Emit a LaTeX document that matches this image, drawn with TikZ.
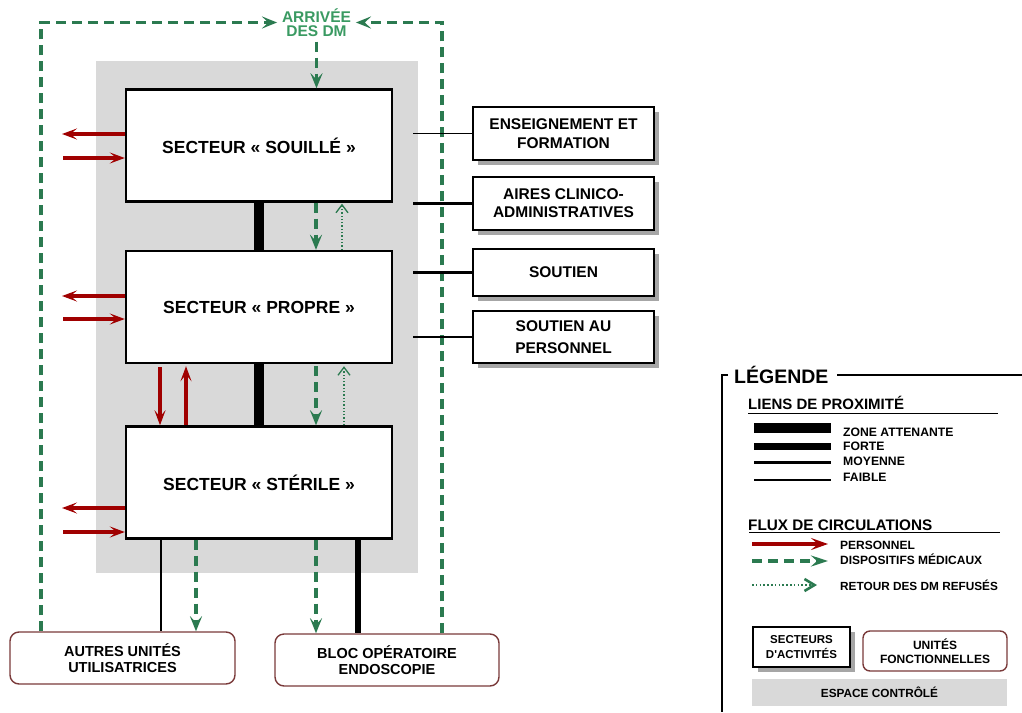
\documentclass[tikz,border=0pt]{standalone}
\usepackage{fontspec}
\setmainfont{Liberation Sans}
\usetikzlibrary{arrows.meta,shadows}
\definecolor{dmgreen}{HTML}{2B7A50}
\definecolor{dmtext}{HTML}{3A9A62}
\definecolor{persred}{HTML}{A00000}
\definecolor{ufbrown}{HTML}{7A3A3A}
\definecolor{espacegris}{HTML}{D9D9D9}
\definecolor{ombre}{HTML}{A6A6A6}
\newcommand{\fs}[2]{\bfseries\fontsize{#1}{#2}\selectfont}
\begin{document}
\begin{tikzpicture}[x=1pt,y=-1pt,
  every node/.style={align=center, inner sep=0pt},
  secteur/.style={draw=black, line width=2.4pt, fill=white,
    minimum width=266pt, minimum height=112pt, font=\fs{17.5}{20}},
  fonction/.style={draw=black, line width=1.4pt, fill=white,
    minimum width=181pt, font=\fs{15.5}{19},
    drop shadow={shadow xshift=5pt, shadow yshift=-5pt, fill=ombre, opacity=1}},
  unite/.style={draw=ufbrown, line width=1.4pt, rounded corners=9pt, fill=white,
    minimum width=225pt, minimum height=52pt, font=\fs{14.5}{16.5}},
  zone/.style={line width=10pt},
  forte/.style={line width=6.5pt},
  moyenne/.style={line width=2.2pt},
  faible/.style={line width=1pt},
  pers/.style={persred, line width=3.2pt, -{Stealth[length=15pt,width=11pt,inset=6.5pt]}},
  dm/.style={dmgreen, line width=3.2pt, dash pattern=on 10pt off 6pt,
    -{Stealth[length=15pt,width=12pt,inset=6pt]}},
  retour/.style={dmgreen, line width=1.3pt, dash pattern=on 1.3pt off 2pt,
    -{Straight Barb[length=8pt,width=12pt,line width=1.3pt]}},
  lbl/.style={anchor=base west, font=\fs{12.2}{14}},
]
\useasboundingbox (0,0) rectangle (1022,712);

% controlled space behind the three sectors
\node[fill=espacegris, minimum width=322pt, minimum height=512pt] (espace) at (257,317) {};

% sectors
\node[secteur] (souille) at (259,145.5) {SECTEUR «~SOUILLÉ~»};
\node[secteur] (propre)  at (259,307)   {SECTEUR «~PROPRE~»};
\node[secteur] (sterile) at (259,482.5) {SECTEUR «~STÉRILE~»};

% functional units on the right
\node[fonction, minimum height=53pt] (ens)     at (563.5,133.5) {ENSEIGNEMENT ET\\FORMATION};
\node[fonction, minimum height=53pt, font=\fs{15.5}{18.3}] (aires) at (563.5,203.5) {AIRES CLINICO-\\ADMINISTRATIVES};
\node[fonction, minimum height=47pt] (soutien) at (563.5,272.5) {SOUTIEN};
\node[fonction, minimum height=52pt, font=\fs{15.5}{22}] (sap) at (563.5,337) {SOUTIEN AU\\PERSONNEL};

% user units at the bottom
\node[unite] (autres) at (122.5,658) {AUTRES UNITÉS\\UTILISATRICES};
\node[unite, minimum width=224pt] (bloc) at (387,660) {BLOC OPÉRATOIRE\\ENDOSCOPIE};

% arrival of medical devices
\node[font=\fs{15.5}{14.5}, text=dmtext, outer sep=5pt] (arrivee) at (316.5,22.5) {ARRIVÉE\\DES DM};

% outer loop of medical devices
\draw[dm] ([xshift=-81.5pt]autres.north) |- (arrivee.west);
\draw[dm] ([xshift=55pt]bloc.north) |- (arrivee.east);
\draw[dm] (arrivee.south) -- (arrivee.south |- souille.north);

% proximity links between sectors
\draw[zone] (souille.south) -- (propre.north);
\draw[zone] (propre.south) -- (sterile.north);

% devices flow and refused returns
\draw[dm] ([xshift=57pt]souille.south) -- ([xshift=57pt]propre.north);
\draw[retour] ([xshift=83pt]propre.north) -- ([xshift=83pt,yshift=-1pt]souille.south);
\draw[dm, shorten <=2pt] ([xshift=57pt]propre.south) -- ([xshift=57pt]sterile.north);
\draw[retour] ([xshift=85pt]sterile.north) -- ([xshift=85pt,yshift=-2pt]propre.south);

% personnel flows
\coordinate (so1) at (62,134);
\coordinate (si1) at (63,158);
\coordinate (so2) at (62,296);
\coordinate (si2) at (63,319);
\coordinate (so3) at (62,508);
\coordinate (si3) at (63,532);
\draw[pers] (so1 -| souille.west) -- (so1);
\draw[pers] (si1) -- (si1 -| souille.west);
\draw[pers] (so2 -| propre.west) -- (so2);
\draw[pers] (si2) -- (si2 -| propre.west);
\draw[pers] (so3 -| sterile.west) -- (so3);
\draw[pers] (si3) -- (si3 -| sterile.west);
\draw[pers, shorten <=3pt] ([xshift=-99pt]propre.south) -- ([xshift=-99pt]sterile.north);
\draw[pers] ([xshift=-73pt]sterile.north) -- ([xshift=-73pt,yshift=-2pt]propre.south);

% links to the bottom units
\draw[moyenne] ([xshift=-98pt]sterile.south) -- ([xshift=-98pt]sterile.south |- autres.north);
\draw[dm] ([xshift=-63pt]sterile.south) -- ([xshift=-63pt]sterile.south |- autres.north);
\draw[dm] ([xshift=57pt]sterile.south) -- ([xshift=57pt]sterile.south |- bloc.north);
\draw[forte] ([xshift=99pt]sterile.south) -- ([xshift=99pt]sterile.south |- bloc.north);

% links to the functional units
\draw[faible]  ([xshift=-5pt]espace.east |- ens.west) -- (ens.west);
\draw[moyenne] ([xshift=-5pt]espace.east |- aires.west) -- (aires.west);
\draw[moyenne] ([xshift=-5pt]espace.east |- soutien.west) -- (soutien.west);
\draw[moyenne] ([xshift=-5pt]espace.east |- sap.west) -- (sap.west);

% legend
\draw[line width=1.2pt] (728,375) -- (722,375) -- (722,712);
\draw[line width=1.2pt] (837,375) -- (1022,375);
\node[anchor=base west, font=\fs{19.5}{20}] (legende) at (734,383) {LÉGENDE};

\node[anchor=base west, font=\fs{15}{16}] (liens) at (748,409) {LIENS DE PROXIMITÉ};
\draw[line width=1pt] (748,413) -- (998,413);
\draw[line width=10pt] (754,428) -- (831,428);
\draw[line width=7pt] (754,446.5) -- (831,446.5);
\draw[line width=2.5pt] (754,462.5) -- (831,462.5);
\draw[line width=1.2pt] (754,480) -- (831,480);
\node[lbl] (l1) at (843,436) {ZONE ATTENANTE};
\node[lbl] (l2) at (843,450) {FORTE};
\node[lbl] (l3) at (843,465) {MOYENNE};
\node[lbl] (l4) at (843,481) {FAIBLE};

\node[anchor=base west, font=\fs{15.3}{16}] (flux) at (748,530) {FLUX DE CIRCULATIONS};
\draw[line width=1pt] (749,532) -- (1000,532);
\draw[pers, -{Stealth[length=17pt,width=12pt,inset=7pt]}] (752,544) -- (828,544);
\draw[dm, -{Stealth[length=17pt,width=11pt,inset=6pt]}] (752,561) -- (828,561);
\draw[retour, line width=1.6pt, dash pattern=on 1.6pt off 2.2pt,
  -{Straight Barb[length=10pt,width=12pt,line width=2.6pt]}] (752,585) -- (817,585);
\node[lbl, font=\fs{12}{14}] (l5) at (840,549) {PERSONNEL};
\node[lbl, font=\fs{12}{14}] (l6) at (840,564) {DISPOSITIFS MÉDICAUX};
\node[lbl, font=\fs{11.8}{14}] (l7) at (840,590) {RETOUR DES DM REFUSÉS};

\node[fonction, minimum width=97pt, minimum height=40pt, font=\fs{11.5}{14.5}] (lsect) at (801.5,647) {SECTEURS\\D\textquotesingle ACTIVITÉS};
\node[unite, minimum width=144pt, minimum height=40pt, rounded corners=7pt, font=\fs{12}{13.5}] (lunit) at (935,651) {UNITÉS\\FONCTIONNELLES};
\node[fill=espacegris, minimum width=255pt, minimum height=27pt, font=\fs{11.8}{13}] (lesp) at (879.5,692.5) {ESPACE CONTRÔLÉ};
\end{tikzpicture}
\end{document}
